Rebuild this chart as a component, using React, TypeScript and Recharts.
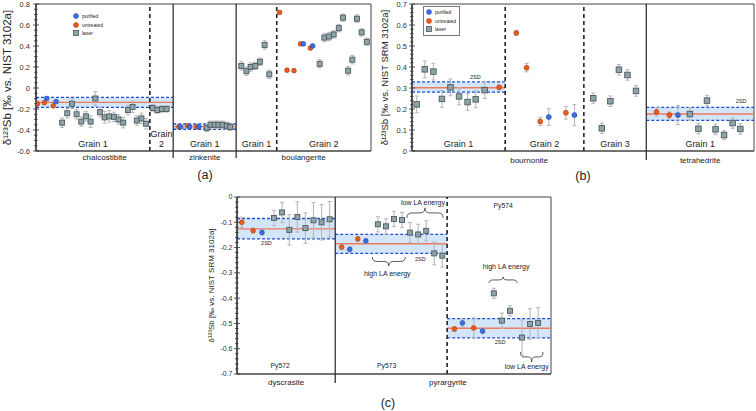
import React from "react";
import {
  ComposedChart,
  Scatter,
  XAxis,
  YAxis,
  ErrorBar,
  ReferenceLine,
  ReferenceArea,
  Legend,
} from "recharts";

const FONT = "'Liberation Sans', Arial, Helvetica, sans-serif";
const ORANGE = "#ec5a1e";
const ORANGE_S = "#a8400f";
const BLUE = "#3b6fe3";
const BLUE_S = "#2446a0";
const SQ_FILL = "#8fa4a8";
const SQ_STROKE = "#4b5b5f";
const ERR = "#b9b9b9";
const BAND = "#d3e5f8";
const BAND_EDGE = "#1f4fd6";
const MEAN = "#ef7a5a";

type Row = [number, number, number]; // [slot, delta123Sb, error]
type Band = { x1: number; x2: number; lo: number; hi: number; mean: number };
type Grain = { x1: number; x2: number; lines: string[] };

// ---------------- Panel (a) ----------------
const aPurified: Row[] = [
  [2.3, -0.1, 0.015], [4.3, -0.13, 0.015], [31, -0.37, 0.015], [32.9, -0.37, 0.015],
  [34.9, -0.37, 0.015], [57.3, 0.42, 0.015], [59.3, 0.4, 0.015],
];
const aUntreated: Row[] = [
  [0.3, -0.15, 0.015], [1.8, -0.14, 0.015], [3.7, -0.17, 0.015], [30.6, -0.37, 0.015],
  [32.5, -0.36, 0.015], [34.4, -0.37, 0.015], [52.2, 0.72, 0.01], [53.8, 0.17, 0.015],
  [55.3, 0.165, 0.015], [56.7, 0.42, 0.015], [58.8, 0.38, 0.015],
];
const aLaser: Row[] = [
  [5.6, -0.33, 0.045], [6.7, -0.24, 0.045], [7.7, -0.15, 0.045], [8.7, -0.25, 0.045],
  [9.7, -0.32, 0.045], [10.7, -0.27, 0.045], [11.7, -0.32, 0.055], [12.7, -0.1, 0.065],
  [13.7, -0.23, 0.045], [14.7, -0.28, 0.055], [15.7, -0.27, 0.055], [16.7, -0.275, 0.045],
  [17.7, -0.3, 0.045], [18.7, -0.33, 0.05], [19.7, -0.21, 0.045], [20.7, -0.18, 0.055],
  [21.6, -0.31, 0.045], [22.6, -0.29, 0.05], [23.6, -0.34, 0.05],
  [25, -0.19, 0.03], [26, -0.21, 0.03], [27, -0.2, 0.03], [28, -0.2, 0.03],
  [36.6, -0.38, 0.035], [37.4, -0.35, 0.035], [38.3, -0.35, 0.035], [39.1, -0.35, 0.035],
  [40, -0.35, 0.035], [40.9, -0.36, 0.035], [41.6, -0.37, 0.035],
  [44, 0.21, 0.04], [45.1, 0.16, 0.04], [46, 0.2, 0.04], [47, 0.21, 0.035],
  [48, 0.25, 0.035], [49, 0.41, 0.04], [50, 0.13, 0.04],
  [60.8, 0.23, 0.04], [61.8, 0.48, 0.04], [62.8, 0.49, 0.04], [63.8, 0.51, 0.035],
  [64.9, 0.57, 0.035], [65.8, 0.67, 0.035], [66.9, 0.165, 0.04], [67.8, 0.27, 0.04],
  [68.8, 0.66, 0.035], [69.8, 0.53, 0.035], [70.9, 0.44, 0.035],
];
const aXDomain: [number, number] = [0, 71.8];
const aYDomain: [number, number] = [-0.6, 0.8];
const aYTicks = [-0.6, -0.4, -0.2, 0, 0.2, 0.4, 0.6, 0.8];
const aYTickLabels = ["-0.6", "-0.4", "-0.2", "0", "0.2", "0.4", "0.6", "0.8"];
const aMinerals = ["chalcostibite", "zinkenite", "boulangerite"];
const aMineralPos = [14.7, 36.15, 57.35];
const aSolid = [29.4, 42.9];
const aDashed = [24.4, 51.6];
const aGrains: Grain[] = [
  { x1: 0, x2: 24.4, lines: ["Grain 1"] },
  { x1: 24.4, x2: 29.4, lines: ["Grain", "2"] },
  { x1: 29.4, x2: 42.9, lines: ["Grain 1"] },
  { x1: 42.9, x2: 51.6, lines: ["Grain 1"] },
  { x1: 51.6, x2: 71.8, lines: ["Grain 2"] },
];
const aBands: Band[] = [
  { x1: 0, x2: 29.4, lo: -0.185, hi: -0.09, mean: -0.137 },
  { x1: 29.4, x2: 42.9, lo: -0.393, hi: -0.343, mean: -0.368 },
];

// ---------------- Panel (b) ----------------
const bPurified: Row[] = [
  [16.0, 0.162, 0.04], [19.0, 0.171, 0.05], [31.1, 0.171, 0.045],
];
const bUntreated: Row[] = [
  [10.2, 0.303, 0.01], [12.2, 0.562, 0.01], [13.4, 0.397, 0.02], [15.0, 0.141, 0.02],
  [18.0, 0.182, 0.03], [28.6, 0.186, 0.02], [30.1, 0.171, 0.015],
];
const bLaser: Row[] = [
  [0.55, 0.222, 0.04], [1.5, 0.389, 0.04], [2.5, 0.378, 0.04], [3.5, 0.248, 0.04],
  [4.5, 0.303, 0.04], [5.5, 0.26, 0.04], [6.5, 0.233, 0.04], [7.45, 0.246, 0.04],
  [8.5, 0.29, 0.04],
  [21.2, 0.251, 0.025], [22.2, 0.108, 0.025], [23.2, 0.237, 0.025], [24.2, 0.387, 0.025],
  [25.2, 0.362, 0.025], [26.2, 0.286, 0.025],
  [32.5, 0.176, 0.03], [33.5, 0.106, 0.025], [34.5, 0.24, 0.025], [35.5, 0.103, 0.025],
  [36.5, 0.076, 0.02], [37.5, 0.133, 0.025], [38.4, 0.105, 0.025],
];
const bXDomain: [number, number] = [0, 40];
const bYDomain: [number, number] = [0, 0.7];
const bYTicks = [0, 0.1, 0.2, 0.3, 0.4, 0.5, 0.6, 0.7];
const bYTickLabels = ["0", "0.1", "0.2", "0.3", "0.4", "0.5", "0.6", "0.7"];
const bMinerals = ["bournonite", "tetrahedrite"];
const bMineralPos = [13.7, 33.7];
const bSolid = [27.4];
const bDashed = [10.9, 20.1];
const bGrains: Grain[] = [
  { x1: 0, x2: 10.9, lines: ["Grain 1"] },
  { x1: 10.9, x2: 20.1, lines: ["Grain 2"] },
  { x1: 20.1, x2: 27.4, lines: ["Grain 3"] },
  { x1: 27.4, x2: 40, lines: ["Grain 1"] },
];
const bBands: Band[] = [
  { x1: 0, x2: 10.9, lo: 0.28, hi: 0.329, mean: 0.301 },
  { x1: 27.4, x2: 40, lo: 0.146, hi: 0.208, mean: 0.176 },
];

// ---------------- Panel (c) ----------------
const cPurified: Row[] = [
  [3.1, -0.14, 0.01], [14.0, -0.207, 0.01], [16.0, -0.174, 0.01], [28.0, -0.498, 0.015],
  [30.5, -0.53, 0.01],
];
const cUntreated: Row[] = [
  [0.6, -0.1, 0.02], [2.0, -0.133, 0.01], [13.0, -0.198, 0.01], [15.0, -0.166, 0.01],
  [27.0, -0.522, 0.01], [29.4, -0.518, 0.04],
];
const cLaser: Row[] = [
  [4.6, -0.083, 0.03], [5.6, -0.061, 0.04], [6.5, -0.13, 0.06], [7.5, -0.079, 0.06],
  [8.5, -0.123, 0.06], [9.5, -0.092, 0.07], [10.5, -0.1, 0.07], [11.5, -0.088, 0.07],
  [17.5, -0.108, 0.03], [18.5, -0.116, 0.03], [19.5, -0.087, 0.03], [20.5, -0.091, 0.03],
  [21.5, -0.141, 0.04], [22.5, -0.148, 0.04], [23.5, -0.134, 0.04], [24.5, -0.223, 0.045],
  [25.5, -0.232, 0.045],
  [31.9, -0.381, 0.02], [32.9, -0.489, 0.03], [33.9, -0.45, 0.02], [35.4, -0.556, 0.07],
  [36.4, -0.502, 0.06], [37.4, -0.498, 0.06],
];
const cXDomain: [number, number] = [0, 39];
const cYDomain: [number, number] = [-0.7, 0];
const cYTicks = [-0.7, -0.6, -0.5, -0.4, -0.3, -0.2, -0.1, 0];
const cYTickLabels = ["-0.7", "-0.6", "-0.5", "-0.4", "-0.3", "-0.2", "-0.1", "0"];
const cMinerals = ["dyscrasite", "pyrargyrite"];
const cMineralPos = [6.1, 26.2];
const cSolid = [12.2];
const cDashed = [26.1];
const cSamples: Grain[] = [
  { x1: 0, x2: 12.2, lines: ["Py572"] },
  { x1: 12.2, x2: 26.1, lines: ["Py573"] },
  { x1: 26.1, x2: 39, lines: ["Py574"] },
];
const cBands: Band[] = [
  { x1: 0, x2: 12.2, lo: -0.166, hi: -0.085, mean: -0.126 },
  { x1: 12.2, x2: 26.1, lo: -0.223, hi: -0.148, mean: -0.185 },
  { x1: 26.1, x2: 39, lo: -0.557, hi: -0.481, mean: -0.519 },
];

const legendNames = ["purified", "untreated", "laser"];

// ---------------- helpers ----------------
const toPts = (rows: Row[]) => rows.map(([x, y, e]) => ({ x, y, e }));

function genTicks(lo: number, hi: number, step: number) {
  const out: number[] = [];
  const n = Math.round((hi - lo) / step);
  for (let i = 0; i <= n; i++) out.push(Math.round((lo + i * step) * 10000) / 10000);
  return out;
}

const sqShape = (s: number) => (p: any) =>
  p.cx == null ? <g /> : (
    <rect x={p.cx - s / 2} y={p.cy - s / 2} width={s} height={s} fill={SQ_FILL} stroke={SQ_STROKE} strokeWidth={0.9} />
  );
const dotShape = (r: number, fill: string, stroke: string) => (p: any) =>
  p.cx == null ? <g /> : <circle cx={p.cx} cy={p.cy} r={r} fill={fill} stroke={stroke} strokeWidth={0.6} />;

const makeYTick = (majors: number[], labels: string[], fs: number, gap: number) => (p: any) => {
  const v = p.payload.value;
  const idx = majors.findIndex((m) => Math.abs(m - v) < 1e-6);
  const major = idx >= 0;
  return (
    <g>
      <line x1={p.x - (major ? 3 : 2)} x2={p.x + (major ? 3 : 1.5)} y1={p.y} y2={p.y} stroke="#333" strokeWidth={0.8} />
      {major && (
        <text x={p.x - gap} y={p.y} dy={fs * 0.35} textAnchor="end" fontSize={fs} fill="#333" fontFamily={FONT}>
          {labels[idx]}
        </text>
      )}
    </g>
  );
};

const makeXTick = (pos: number[], names: string[], solid: number[], ext: number, fs: number, dy: number) => (p: any) => {
  const v = p.payload.value;
  if (solid.some((s) => Math.abs(s - v) < 1e-6)) {
    return <line x1={p.x} x2={p.x} y1={p.y} y2={p.y + ext} stroke="#222" strokeWidth={1.2} />;
  }
  const i = pos.findIndex((c) => Math.abs(c - v) < 1e-6);
  return (
    <text x={p.x} y={p.y + dy} textAnchor="middle" fontSize={fs} fill="#222" fontFamily={FONT}>
      {names[i]}
    </text>
  );
};

const AreaText = (props: any) => {
  const vb = props.viewBox ?? { x: 0, y: 0, width: 0, height: 0 };
  const { fx = 0.5, fy = 1, dy = 0, dx = 0, lines = [], size = 9, lh = 10 } = props;
  const x = vb.x + vb.width * fx + dx;
  const y = vb.y + vb.height * fy + dy;
  return (
    <text x={x} y={y} textAnchor="middle" fontSize={size} fill="#222" fontFamily={FONT}>
      {lines.map((l: string, i: number) => (
        <tspan key={i} x={x} dy={i === 0 ? 0 : lh}>
          {l}
        </tspan>
      ))}
    </text>
  );
};

const Brace = (props: any) => {
  const vb = props.viewBox ?? { x: 0, y: 0, width: 0, height: 0 };
  const { tip = "down", text, size = 7, tdy = 0, tdx = 0 } = props;
  const { x, y } = vb;
  const w = vb.width;
  const h = vb.height;
  const cx = x + w / 2;
  const q = Math.min(w * 0.15, 5);
  const ym = y + h / 2;
  const d =
    tip === "down"
      ? `M${x},${y} Q${x},${ym} ${x + q},${ym} L${cx - q},${ym} Q${cx},${ym} ${cx},${y + h} Q${cx},${ym} ${cx + q},${ym} L${x + w - q},${ym} Q${x + w},${ym} ${x + w},${y}`
      : `M${x},${y + h} Q${x},${ym} ${x + q},${ym} L${cx - q},${ym} Q${cx},${ym} ${cx},${y} Q${cx},${ym} ${cx + q},${ym} L${x + w - q},${ym} Q${x + w},${ym} ${x + w},${y + h}`;
  const ty = tip === "down" ? y + h + tdy : y - tdy;
  return (
    <g>
      <path d={d} fill="none" stroke="#333" strokeWidth={0.8} />
      <text x={cx + tdx} y={ty} textAnchor="middle" fontSize={size} fill="#222" fontFamily={FONT}>
        {text}
      </text>
    </g>
  );
};

const YLab = (props: any) => {
  const vb = props.viewBox ?? { x: 0, y: 0, width: 0, height: 0 };
  const { text, dx = 8, size = 10 } = props;
  const cx = vb.x + dx;
  const cy = vb.y + vb.height / 2;
  return (
    <text x={cx} y={cy} transform={`rotate(-90 ${cx} ${cy})`} textAnchor="middle" dominantBaseline="central" fontSize={size} fill="#222" fontFamily={FONT}>
      {text}
    </text>
  );
};

function LegendBlock({ boxed }: { boxed: boolean }) {
  return (
    <div
      style={{
        fontFamily: FONT,
        fontSize: 5,
        color: "#222",
        border: boxed ? "1px solid #777" : "1px solid transparent",
        padding: "1px 3px 1px 2px",
        lineHeight: "8.5px",
        background: "transparent",
      }}
    >
      {legendNames.map((n, i) => (
        <div key={n} style={{ display: "flex", alignItems: "center", height: 8.5 }}>
          <svg width={6} height={6} style={{ marginRight: 3, display: "block" }}>
            {i < 2 ? (
              <circle cx={3} cy={3} r={2.5} fill={i === 0 ? BLUE : ORANGE} stroke={i === 0 ? BLUE_S : ORANGE_S} strokeWidth={0.5} />
            ) : (
              <rect x={0.5} y={0.5} width={5} height={5} fill={SQ_FILL} stroke={SQ_STROKE} strokeWidth={0.8} />
            )}
          </svg>
          <span>{n}</span>
        </div>
      ))}
    </div>
  );
}

function Panel(cfg: any) {
  const {
    width, height, margin, yAxisWidth, xAxisHeight, xDomain, yDomain, yMajor, yLabels, minorStep,
    tickFs, tickGap, yLabel, yLabelDx, yLabelSize, minerals, mineralPos, solid, dashed, ext, catFs, catDy,
    grains, grainFs, grainDy, bands, bandNotes, purified, untreated, laser, sq, dotR, legendPos, legendBoxed, extra,
  } = cfg;
  const yTicks = genTicks(yDomain[0], yDomain[1], minorStep);
  return (
    <ComposedChart width={width} height={height} margin={margin}>
      <XAxis
        type="number"
        dataKey="x"
        domain={xDomain}
        ticks={[...mineralPos, ...solid]}
        interval={0}
        tickSize={0}
        tickMargin={0}
        tickLine={false}
        axisLine={{ stroke: "#444", strokeWidth: 1 }}
        height={xAxisHeight}
        allowDataOverflow
        tick={makeXTick(mineralPos, minerals, solid, ext, catFs, catDy)}
      />
      <YAxis
        type="number"
        dataKey="y"
        domain={yDomain}
        ticks={yTicks}
        interval={0}
        tickSize={0}
        tickMargin={0}
        tickLine={false}
        axisLine={{ stroke: "#222", strokeWidth: 1.2 }}
        width={yAxisWidth}
        allowDataOverflow
        tick={makeYTick(yMajor, yLabels, tickFs, tickGap)}
        label={<YLab text={yLabel} dx={yLabelDx} size={yLabelSize} />}
      />
      {bands.map((b: Band, i: number) => (
        <ReferenceArea
          key={`band${i}`}
          x1={b.x1}
          x2={b.x2}
          y1={b.lo}
          y2={b.hi}
          fill={BAND}
          fillOpacity={1}
          stroke="none"
          label={bandNotes && bandNotes[i] ? <AreaText size={5.5} lines={["2SD"]} {...bandNotes[i]} /> : undefined}
        />
      ))}
      {grains.map((g: Grain, i: number) => (
        <ReferenceArea
          key={`grain${i}`}
          x1={g.x1}
          x2={g.x2}
          y1={yDomain[0]}
          y2={yDomain[1]}
          fill="none"
          fillOpacity={0}
          stroke="none"
          label={<AreaText size={grainFs} lines={g.lines} fy={1} dy={g.lines.length > 1 ? grainDy - 10 : grainDy} {...(cfg.grainPlace ? cfg.grainPlace[i] : {})} />}
        />
      ))}
      {bands.map((b: Band, i: number) => (
        <ReferenceLine key={`hi${i}`} segment={[{ x: b.x1, y: b.hi }, { x: b.x2, y: b.hi }]} stroke={BAND_EDGE} strokeWidth={1.3} strokeDasharray="3 2" />
      ))}
      {bands.map((b: Band, i: number) => (
        <ReferenceLine key={`lo${i}`} segment={[{ x: b.x1, y: b.lo }, { x: b.x2, y: b.lo }]} stroke={BAND_EDGE} strokeWidth={1.3} strokeDasharray="3 2" />
      ))}
      {bands.map((b: Band, i: number) => (
        <ReferenceLine key={`mean${i}`} segment={[{ x: b.x1, y: b.mean }, { x: b.x2, y: b.mean }]} stroke={MEAN} strokeWidth={1.4} />
      ))}
      {solid.map((d: number) => (
        <ReferenceLine key={`s${d}`} x={d} stroke="#222" strokeWidth={1.2} />
      ))}
      {dashed.map((d: number) => (
        <ReferenceLine key={`d${d}`} x={d} stroke="#222" strokeWidth={1.6} strokeDasharray="4 3" />
      ))}
      <ReferenceArea x1={xDomain[0]} x2={xDomain[1]} y1={yDomain[0]} y2={yDomain[1]} fill="none" fillOpacity={0} stroke="#444" strokeWidth={1} />
      {extra}
      <Scatter name="laser" data={toPts(laser)} isAnimationActive={false} shape={sqShape(sq)}>
        <ErrorBar dataKey="e" direction="y" width={2} stroke={ERR} strokeWidth={1.1} />
      </Scatter>
      <Scatter name="untreated" data={toPts(untreated)} isAnimationActive={false} shape={dotShape(dotR, ORANGE, ORANGE_S)}>
        <ErrorBar dataKey="e" direction="y" width={2} stroke={ERR} strokeWidth={1.1} />
      </Scatter>
      <Scatter name="purified" data={toPts(purified)} isAnimationActive={false} shape={dotShape(dotR, BLUE, BLUE_S)}>
        <ErrorBar dataKey="e" direction="y" width={2} stroke={ERR} strokeWidth={1.1} />
      </Scatter>
      {legendPos && (
        <Legend
          layout="vertical"
          align="center"
          verticalAlign="middle"
          wrapperStyle={{ left: legendPos.left, top: legendPos.top, width: "auto", height: "auto" }}
          content={() => <LegendBlock boxed={!!legendBoxed} />}
        />
      )}
    </ComposedChart>
  );
}

const Caption = ({ text, cx, cy }: { text: string; cx: number; cy: number }) => (
  <div
    style={{
      position: "absolute",
      left: cx - 20,
      top: cy - 8,
      width: 40,
      height: 16,
      lineHeight: "16px",
      textAlign: "center",
      fontFamily: FONT,
      fontSize: 12.5,
      color: "#222",
    }}
  >
    {text}
  </div>
);

export default function App() {
  const cExtra = [
    <ReferenceArea key="br1" x1={16.8} x2={20.9} y1={-0.273} y2={-0.237} fill="none" fillOpacity={0} stroke="none"
      label={<Brace tip="down" text="high LA energy" tdy={10} tdx={-1.5} />} />,
    <ReferenceArea key="br2" x1={21.1} x2={25.6} y1={-0.083} y2={-0.043} fill="none" fillOpacity={0} stroke="none"
      label={<Brace tip="up" text="low LA energy" tdy={2.5} tdx={-2} />} />,
    <ReferenceArea key="br3" x1={31.3} x2={34.8} y1={-0.34} y2={-0.316} fill="none" fillOpacity={0} stroke="none"
      label={<Brace tip="up" text="high LA energy" tdy={7.5} tdx={3} />} />,
    <ReferenceArea key="br4" x1={35.2} x2={38.0} y1={-0.652} y2={-0.613} fill="none" fillOpacity={0} stroke="none"
      label={<Brace tip="down" text="low LA energy" tdy={7.5} tdx={-5} />} />,
  ];

  return (
    <div style={{ position: "absolute", left: 0, top: 0, width: 756, height: 411, background: "#fff", fontFamily: FONT }}>
      <div style={{ position: "absolute", left: 0, top: 0 }}>
        <Panel
          width={380} height={170} margin={{ top: 4, right: 9, bottom: 0, left: 0 }}
          yAxisWidth={36} xAxisHeight={19}
          xDomain={aXDomain} yDomain={aYDomain} yMajor={aYTicks} yLabels={aYTickLabels} minorStep={0.05}
          tickFs={7.5} tickGap={6}
          yLabel="δ¹²³Sb [‰ vs. NIST 3102a]" yLabelDx={7} yLabelSize={11.5}
          minerals={aMinerals} mineralPos={aMineralPos} solid={aSolid} dashed={aDashed} ext={7} catFs={8} catDy={9}
          grains={aGrains} grainFs={9} grainDy={-4.5}
          bands={aBands} bandNotes={null}
          purified={aPurified} untreated={aUntreated} laser={aLaser} sq={5} dotR={2.4}
          legendPos={{ left: 70, top: 10 }} legendBoxed={false}
          extra={[]}
        />
      </div>
      <div style={{ position: "absolute", left: 380, top: 0 }}>
        <Panel
          width={376} height={170} margin={{ top: 4, right: 2, bottom: 0, left: 0 }}
          yAxisWidth={32} xAxisHeight={19}
          xDomain={bXDomain} yDomain={bYDomain} yMajor={bYTicks} yLabels={bYTickLabels} minorStep={0.02}
          tickFs={7.5} tickGap={5}
          yLabel="δ¹²³Sb [‰ vs. NIST SRM 3102a]" yLabelDx={4.5} yLabelSize={9.5}
          minerals={bMinerals} mineralPos={bMineralPos} solid={bSolid} dashed={bDashed} ext={9} catFs={8} catDy={12}
          grains={bGrains} grainFs={9} grainDy={-4}
          bands={bBands} bandNotes={[{ fx: 0.68, fy: 0, dy: -3 }, { fx: 0.88, fy: 0, dy: -4 }]}
          purified={bPurified} untreated={bUntreated} laser={bLaser} sq={5.5} dotR={2.5}
          legendPos={{ left: 43, top: 6 }} legendBoxed={true}
          extra={[]}
        />
      </div>
      <div style={{ position: "absolute", left: 190, top: 190 }}>
        <Panel
          width={365} height={200} margin={{ top: 7, right: 4, bottom: 0, left: 0 }}
          yAxisWidth={47} xAxisHeight={16}
          xDomain={cXDomain} yDomain={cYDomain} yMajor={cYTicks} yLabels={cYTickLabels} minorStep={0.02}
          tickFs={7} tickGap={4.5}
          yLabel="δ¹²³Sb [‰ vs. NIST SRM 3102a]" yLabelDx={21.5} yLabelSize={8}
          minerals={cMinerals} mineralPos={cMineralPos} solid={cSolid} dashed={cDashed} ext={9} catFs={8} catDy={10.5}
          grains={cSamples} grainFs={6.8} grainDy={-6.5}
          grainPlace={[{ fx: 0.44 }, { fx: 0.46 }, { fx: 0.54, fy: 0, dy: 10.5 }]}
          bands={cBands} bandNotes={[{ fx: 0.3, fy: 1, dy: 6.5 }, { fx: 0.76, fy: 1, dy: 7.5 }, { fx: 0.51, fy: 1, dy: 6.5 }]}
          purified={cPurified} untreated={cUntreated} laser={cLaser} sq={5} dotR={2.4}
          legendPos={null} legendBoxed={false}
          extra={cExtra}
        />
      </div>
      <Caption text="(a)" cx={205} cy={175} />
      <Caption text="(b)" cx={583} cy={176} />
      <Caption text="(c)" cx={388} cy={403} />
    </div>
  );
}
